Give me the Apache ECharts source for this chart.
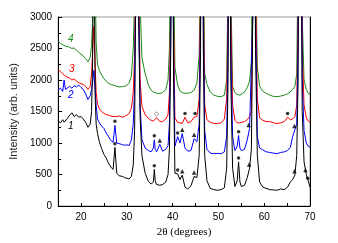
<!DOCTYPE html>
<html><head><meta charset="utf-8">
<script src="https://cdn.jsdelivr.net/npm/echarts@6/dist/echarts.min.js"></script>
<style>html,body{margin:0;padding:0;background:#fff}#c{width:338px;height:243px}</style>
</head><body><div id="c"></div>
<script>
const twoTheta = [15,15.5,16,16.3,16.6,17,17.5,18,18.5,19,
19.5,20,20.5,21,21.5,22,22.3,22.5,22.8,23.1,
23.3,23.6,24,24.5,25,25.5,26,26.5,27,27.4,
27.8,28.3,29,29.5,30,30.5,31,31.4,31.7,32.0,
32.3,32.6,32.9,33.3,34,34.7,35.3,35.8,36.0,36.2,
36.5,37.2,37.8,38.5,39,39.3,39.6,39.9,40.2,40.5,
41.1,41.6,42.1,42.7,43.3,44,44.7,45.3,45.8,46.1,
46.4,46.7,47.0,47.5,48.2,49,49.8,50.6,51.3,51.8,
52.1,52.4,52.7,53.1,53.6,54.1,54.4,54.7,55,55.7,
56.3,56.8,57.2,57.5,57.8,58.1,58.5,59,59.7,60.4,
61.2,62,62.8,63.6,64.4,65.1,65.7,66.2,66.7,67.1,
67.4,67.7,68.0,68.3,68.7,69.2,69.6,70];

const sample1 = [1350,1320,1370,1330,1360,1390,1440,1480,1420,1450,
1410,1420,1380,1330,1250,1300,1500,2200,4500,1700,
1300,1150,1020,910,820,760,680,620,580,930,
520,480,470,450,440,430,470,650,1200,4000,
8000,3000,1400,800,520,390,350,380,580,400,
340,330,340,380,500,900,2500,8000,2000,520,
510,420,490,300,270,320,470,450,800,2500,
9000,2500,800,400,280,260,250,260,290,600,
2000,9000,2000,600,310,400,700,380,310,330,
450,600,900,3000,9000,2500,800,380,300,280,
260,255,250,270,260,300,380,420,490,800,
2000,9000,6000,1500,700,500,400,300];

const sample2 = [1840,1870,1820,2000,1850,1880,1900,1870,1910,1890,
1920,1880,1850,1780,1690,1750,1850,1950,2150,1800,
1600,1380,1320,1270,1230,1160,1100,1040,1010,1280,
1000,990,975,965,970,960,1050,1300,1900,4000,
8000,3000,1600,1050,920,880,860,920,1050,900,
860,980,870,900,960,1300,2800,8000,2500,950,
1100,1000,1150,920,870,880,1070,1020,1300,3000,
9000,3000,1200,900,840,830,835,830,860,1100,
2500,9000,2500,1100,880,950,1120,920,880,900,
1050,1230,1200,3000,9000,3000,1100,920,890,860,
850,840,830,850,860,880,930,1100,1210,1300,
2500,9000,7000,2000,1200,1000,950,930];

const sample3 = [2170,2130,2100,2080,2060,2070,2030,2000,2020,1980,
1960,1940,1930,1900,1850,1900,2100,2400,2850,2200,
1800,1620,1540,1500,1470,1450,1440,1430,1420,1430,
1420,1430,1410,1420,1440,1470,1550,1800,2400,4500,
9000,3500,2000,1580,1450,1390,1360,1350,1340,1360,
1400,1340,1340,1380,1450,1800,3200,9000,3000,1400,
1330,1320,1310,1410,1320,1340,1410,1420,1700,3500,
9000,3500,1600,1370,1330,1310,1310,1320,1380,1700,
3000,9000,3000,1600,1360,1320,1310,1320,1310,1340,
1370,1420,1500,3200,9000,3500,1700,1400,1360,1340,
1340,1320,1310,1320,1340,1410,1370,1380,1420,1600,
3000,9000,8000,2500,1600,1400,1350,1330];

const sample4 = [2620,2580,2560,2590,2540,2550,2520,2500,2510,2470,
2440,2410,2380,2340,2290,2360,2550,2900,9000,3500,
2600,2250,2150,2080,2020,1980,1950,1930,1920,1910,
1900,1890,1895,1900,1915,1950,2060,2500,3300,6000,
12000,5000,3200,2350,2100,1920,1840,1810,1800,1790,
1790,1785,1800,1850,2000,2500,4500,12000,4000,2200,
1920,1830,1800,1790,1790,1800,1840,1950,2400,4000,
12000,4000,2100,1930,1810,1760,1740,1735,1760,2000,
3500,12000,3500,1900,1800,1770,1760,1760,1770,1810,
1880,1980,2300,4500,12000,4000,2200,1900,1820,1790,
1760,1740,1735,1745,1760,1780,1810,1850,1900,2100,
4000,12000,9000,3000,2000,1850,1790,1770];

const starMarks = [[27.4,990],[27.4,1345],[36.0,640],[36.0,1115],[41.1,570],[41.1,1160],[42.7,1470],[44.9,1470],[54.4,760],[54.4,1180],[65.1,1470],[69.5,440]];
const triMarks = [[37.2,1040],[42.1,550],[42.1,1210],[44.7,530],[44.7,1130],[56.7,660],[56.6,1285],[66.6,550],[66.6,1270],[69.0,570]];
const diamondMarks = [[36.5,1460]];

const seriesNames = ['1','2','3','4'];
const seriesColors = ['#000000','#0000ff','#ff0000','#1a8a1a'];
const xTickLabels = [20,30,40,50,60,70];

const pair = ys => twoTheta.map((x,i)=>[x,ys[i]]);
const chart = echarts.init(document.getElementById('c'));
const lineS = (name, ys, color) => ({name, type:'line', data:pair(ys), showSymbol:false, symbol:'none',
  lineStyle:{color, width:1}, itemStyle:{color}, clip:true, z:2});
chart.setOption({
  animation:false,
  grid:{left:56,right:28,top:17,bottom:37,show:true,borderColor:'#999',borderWidth:1},
  xAxis:{type:'value',min:15,max:70,interval:5,
    axisLine:{lineStyle:{color:'#000',width:1}},
    axisTick:{inside:true,length:3,lineStyle:{color:'#000'}},
    splitLine:{show:false},
    axisLabel:{margin:6,fontSize:10,color:'#000',fontFamily:'Liberation Sans',
      formatter:v=> xTickLabels.includes(v)?String(v):''},
    name:'2θ (degrees)',nameLocation:'middle',nameGap:20,
    nameTextStyle:{fontFamily:'Liberation Serif',fontSize:11,color:'#000'}},
  yAxis:[{type:'value',min:0,max:3000,interval:500,
    axisLine:{show:true,lineStyle:{color:'#000',width:1}},
    axisTick:{inside:true,length:4,lineStyle:{color:'#000'}},
    minorTick:{show:true,splitNumber:2,length:3,lineStyle:{color:'#000'}},
    splitLine:{show:false},
    axisLabel:{margin:6,fontSize:10,color:'#000',fontFamily:'Liberation Sans',formatter:v=>String(v)},
    name:'Intensity (arb. units)',nameLocation:'middle',nameGap:37,
    nameTextStyle:{fontFamily:'Liberation Sans',fontSize:11,color:'#222'}},
   {type:'value',min:0,max:3000,position:'right',
    axisLine:{show:true,lineStyle:{color:'#000',width:1}},
    axisTick:{show:false},axisLabel:{show:false},splitLine:{show:false}}],
  series:[
    lineS(seriesNames[3], sample4, seriesColors[3]),
    lineS(seriesNames[2], sample3, seriesColors[2]),
    lineS(seriesNames[1], sample2, seriesColors[1]),
    lineS(seriesNames[0], sample1, seriesColors[0]),
    {type:'scatter',data:starMarks,symbol:'circle',symbolSize:3.5,itemStyle:{color:'#000'},z:5},
    {type:'scatter',data:triMarks,symbol:'triangle',symbolSize:4.5,itemStyle:{color:'#000'},z:5},
    {type:'scatter',data:diamondMarks,symbol:'diamond',symbolSize:4.5,itemStyle:{color:'#fff',borderColor:'#555',borderWidth:0.8},z:5}
  ],
  graphic:[
    {type:'text',left:68,top:34,style:{text:seriesNames[3],fill:seriesColors[3],font:'italic 10px Liberation Sans'}},
    {type:'text',left:69,top:64,style:{text:seriesNames[2],fill:seriesColors[2],font:'italic 10px Liberation Sans'}},
    {type:'text',left:68,top:90,style:{text:seriesNames[1],fill:seriesColors[1],font:'italic 10px Liberation Sans'}},
    {type:'text',left:68,top:121,style:{text:seriesNames[0],fill:seriesColors[0],font:'italic 10px Liberation Sans'}}
  ]
});
</script></body></html>
